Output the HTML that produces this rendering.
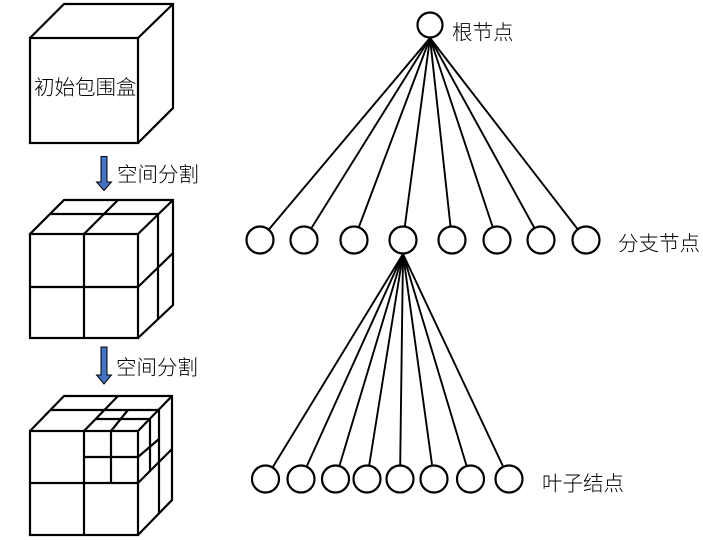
<!DOCTYPE html>
<html><head><meta charset="utf-8"><style>
html,body{margin:0;padding:0;background:#fff;}
svg{display:block;}
text{font-family:"Liberation Sans","Noto Sans CJK SC",sans-serif;font-size:20.5px;font-weight:300;fill:#000;}
</style></head><body>
<svg width="703" height="540" viewBox="0 0 703 540" xmlns="http://www.w3.org/2000/svg">
<g stroke="#000" stroke-width="2.2" fill="none" stroke-linejoin="miter">
<!-- Cube 1 -->
<rect x="30" y="38" width="108" height="105" fill="#fff"/>
<polyline points="30,38 64,4 173,4 173,108 138,143"/>
<line x1="138" y1="38" x2="173" y2="4"/>
<!-- Cube 2 -->
<rect x="30" y="234" width="108" height="104"/>
<polyline points="30,234 64,200 173,200 173,305 138,338"/>
<line x1="138" y1="234" x2="173" y2="200"/>
<line x1="50" y1="214" x2="158" y2="214"/>
<line x1="158" y1="214" x2="158" y2="319"/>
<line x1="84" y1="234" x2="118" y2="200"/>
<line x1="84" y1="234" x2="84" y2="338"/>
<line x1="30" y1="287" x2="138" y2="287"/>
<line x1="138" y1="287" x2="173" y2="253"/>
<!-- Cube 3 -->
<rect x="30" y="431" width="108" height="104"/>
<polyline points="30,431 64,396 172,396 172,500 138,535"/>
<line x1="138" y1="431" x2="172" y2="396"/>
<line x1="50" y1="410" x2="159" y2="410"/>
<line x1="84" y1="431" x2="118" y2="396"/>
<line x1="84" y1="431" x2="84" y2="535"/>
<line x1="30" y1="483" x2="138" y2="483"/>
<line x1="159" y1="410" x2="159" y2="514"/>
<line x1="138" y1="483" x2="172" y2="449"/>
<line x1="111" y1="431" x2="111" y2="483"/>
<line x1="84" y1="457" x2="138" y2="457"/>
<line x1="96" y1="419" x2="150" y2="419"/>
<line x1="111" y1="431" x2="128" y2="410"/>
<line x1="150" y1="419" x2="150" y2="471"/>
<line x1="138" y1="457" x2="159" y2="439"/>
</g>
<!-- Arrows -->
<g fill="#4472C4" stroke="#000" stroke-width="1">
<polygon points="101,156.5 107,156.5 107,182 111.5,182 104,190.5 96.5,182 101,182"/>
<polygon points="101,347 107,347 107,375 111.5,375 104,384 96.5,375 101,375"/>
</g>
<!-- Labels -->
<text x="34" y="94.5">初始包围盒</text>
<text x="117" y="181.5">空间分割</text>
<text x="116" y="374.5">空间分割</text>
<text x="452" y="39.5">根节点</text>
<text x="618" y="250.5">分支节点</text>
<text x="542" y="490.5">叶子结点</text>
<!-- Tree lines -->
<g stroke="#000" stroke-width="1.9">
<line x1="430" y1="38" x2="260" y2="240"/>
<line x1="430" y1="38" x2="304" y2="240"/>
<line x1="430" y1="38" x2="354" y2="240"/>
<line x1="430" y1="38" x2="403" y2="240"/>
<line x1="430" y1="38" x2="452" y2="240"/>
<line x1="430" y1="38" x2="497" y2="240"/>
<line x1="430" y1="38" x2="541" y2="240"/>
<line x1="430" y1="38" x2="586" y2="240"/>
<line x1="403" y1="254" x2="265.5" y2="479"/>
<line x1="403" y1="254" x2="301" y2="479"/>
<line x1="403" y1="254" x2="335.5" y2="479"/>
<line x1="403" y1="254" x2="367" y2="479"/>
<line x1="403" y1="254" x2="400" y2="479"/>
<line x1="403" y1="254" x2="434" y2="479"/>
<line x1="403" y1="254" x2="470.5" y2="479"/>
<line x1="403" y1="254" x2="509" y2="479"/>
</g>
<g stroke="#000" stroke-width="2.2" fill="#fff">
<circle cx="430" cy="25" r="12.5"/>
<circle cx="260" cy="240" r="13.5"/>
<circle cx="304" cy="240" r="13.5"/>
<circle cx="354" cy="240" r="13.5"/>
<circle cx="403" cy="240" r="13.5"/>
<circle cx="452" cy="240" r="13.5"/>
<circle cx="497" cy="240" r="13.5"/>
<circle cx="541" cy="240" r="13.5"/>
<circle cx="586" cy="240" r="13.5"/>
<circle cx="265.5" cy="479" r="13.5"/>
<circle cx="301" cy="479" r="13.5"/>
<circle cx="335.5" cy="479" r="13.5"/>
<circle cx="367" cy="479" r="13.5"/>
<circle cx="400" cy="479" r="13.5"/>
<circle cx="434" cy="479" r="13.5"/>
<circle cx="470.5" cy="479" r="13.5"/>
<circle cx="509" cy="479" r="13.5"/>
</g>
</svg>
</body></html>
